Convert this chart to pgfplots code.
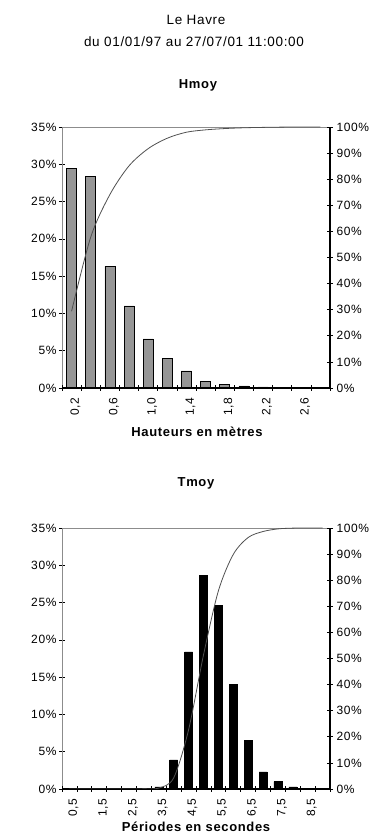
\documentclass[border=0pt]{standalone}
\usepackage{pgfplots}
\pgfplotsset{compat=1.18}
\usepackage{fontspec}
\setmainfont[LetterSpace=5]{Liberation Sans}
\definecolor{barg}{RGB}{150,150,150}
\definecolor{boxg}{RGB}{140,140,140}
\definecolor{cumg}{RGB}{80,80,80}
\begin{document}
\begin{tikzpicture}
\useasboundingbox (0pt,0pt) rectangle (381pt,837pt);
\pgfplotsset{
  base/.style={scale only axis, width=268pt, height=261pt, anchor=south west,
    /pgf/number format/assume math mode=true,
    tick label style={font=\fontsize{12}{13}\selectfont},
    tick align=center, major tick length=6pt},
  prim/.style={base, ymin=0, ymax=35, axis line style={boxg, line width=0.8pt},
    ytick={0,5,...,35}, yticklabel={\pgfmathprintnumber{\tick}\%}, ytick pos=left,
    ytick style={black, line width=0.6pt}, xtick style={draw=none}, xtick pos=bottom,
    yticklabel style={xshift=1pt},
    xticklabel style={rotate=90, anchor=east, yshift=-4pt}},
  seco/.style={base, ymin=0, ymax=100, axis x line*=bottom, axis y line*=right,
    axis line style={black, line width=1.2pt}, xticklabels={},
    ytick={0,10,...,100}, yticklabel={\pgfmathprintnumber{\tick}\%},
    tick style={black, line width=0.6pt}}
}
\node[font=\fontsize{13.5}{15}\selectfont] at (196pt,817pt) {Le Havre};
\node[font=\fontsize{13.5}{15}\selectfont] at (194pt,795pt) {du 01/01/97 au 27/07/01 11:00:00};
\node[font=\bfseries\fontsize{13}{15}\selectfont] at (198pt,752pt) {Hmoy};
\node[font=\bfseries\fontsize{13}{15}\selectfont] at (197pt,405pt) {Hauteurs en mètres};
\node[font=\bfseries\fontsize{13}{15}\selectfont] at (196pt,354pt) {Tmoy};
\node[font=\bfseries\fontsize{13}{15}\selectfont] at (196pt,10pt) {Périodes en secondes};

% ---- Hmoy ----
\begin{axis}[prim, at={(62pt,449pt)}, xmin=-0.5, xmax=13.5,
  xtick={0,2,...,12}, xticklabels={{0,2},{0,6},{1,0},{1,4},{1,8},{2,2},{2,6}},
  ybar, bar width=10pt]
\addplot[draw=black, fill=barg, line width=0.5pt] coordinates {
(0,29.4) (1,28.4) (2,16.3) (3,11.0) (4,6.6) (5,4.0) (6,2.3) (7,0.9)
(8,0.5) (9,0.3) (10,0.15) (11,0.1) (12,0.05) (13,0)};
\end{axis}
\begin{axis}[seco, at={(62pt,449pt)}, xmin=-0.5, xmax=13.5, xtick={-0.5,0.5,...,13.5}]
\addplot[cumg, line width=0.8pt, smooth, no marks] coordinates {
(0,29.4) (1,57.8) (2,74.1) (3,85.1) (4,91.7) (5,95.7) (6,98.0) (7,98.9)
(8,99.4) (9,99.7) (10,99.85) (11,99.95) (12,100) (13,100)};
\end{axis}

% ---- Tmoy ----
\begin{axis}[prim, at={(62pt,48pt)}, xmin=-0.5, xmax=17.5,
  xtick={0,2,...,16}, xticklabels={{0,5},{1,5},{2,5},{3,5},{4,5},{5,5},{6,5},{7,5},{8,5}},
  ybar, bar width=8pt]
\addplot[draw=black, fill=black, line width=0.5pt] coordinates {
(0,0) (1,0) (2,0) (3,0) (4,0) (5,0.05) (6,0.3) (7,3.9) (8,18.4) (9,28.6)
(10,24.6) (11,14.0) (12,6.5) (13,2.3) (14,1.0) (15,0.3) (16,0.05) (17,0)};
\end{axis}
\begin{axis}[seco, at={(62pt,48pt)}, xmin=-0.5, xmax=17.5, xtick={-0.5,0.5,...,17.5}]
\addplot[cumg, line width=0.8pt, smooth, no marks] coordinates {
(0,0) (1,0) (2,0) (3,0) (4,0) (5,0.05) (6,0.35) (7,4.25) (8,22.65) (9,51.25)
(10,75.85) (11,89.85) (12,96.35) (13,98.65) (14,99.65) (15,99.95) (16,100) (17,100)};
\end{axis}
\end{tikzpicture}
\end{document}
